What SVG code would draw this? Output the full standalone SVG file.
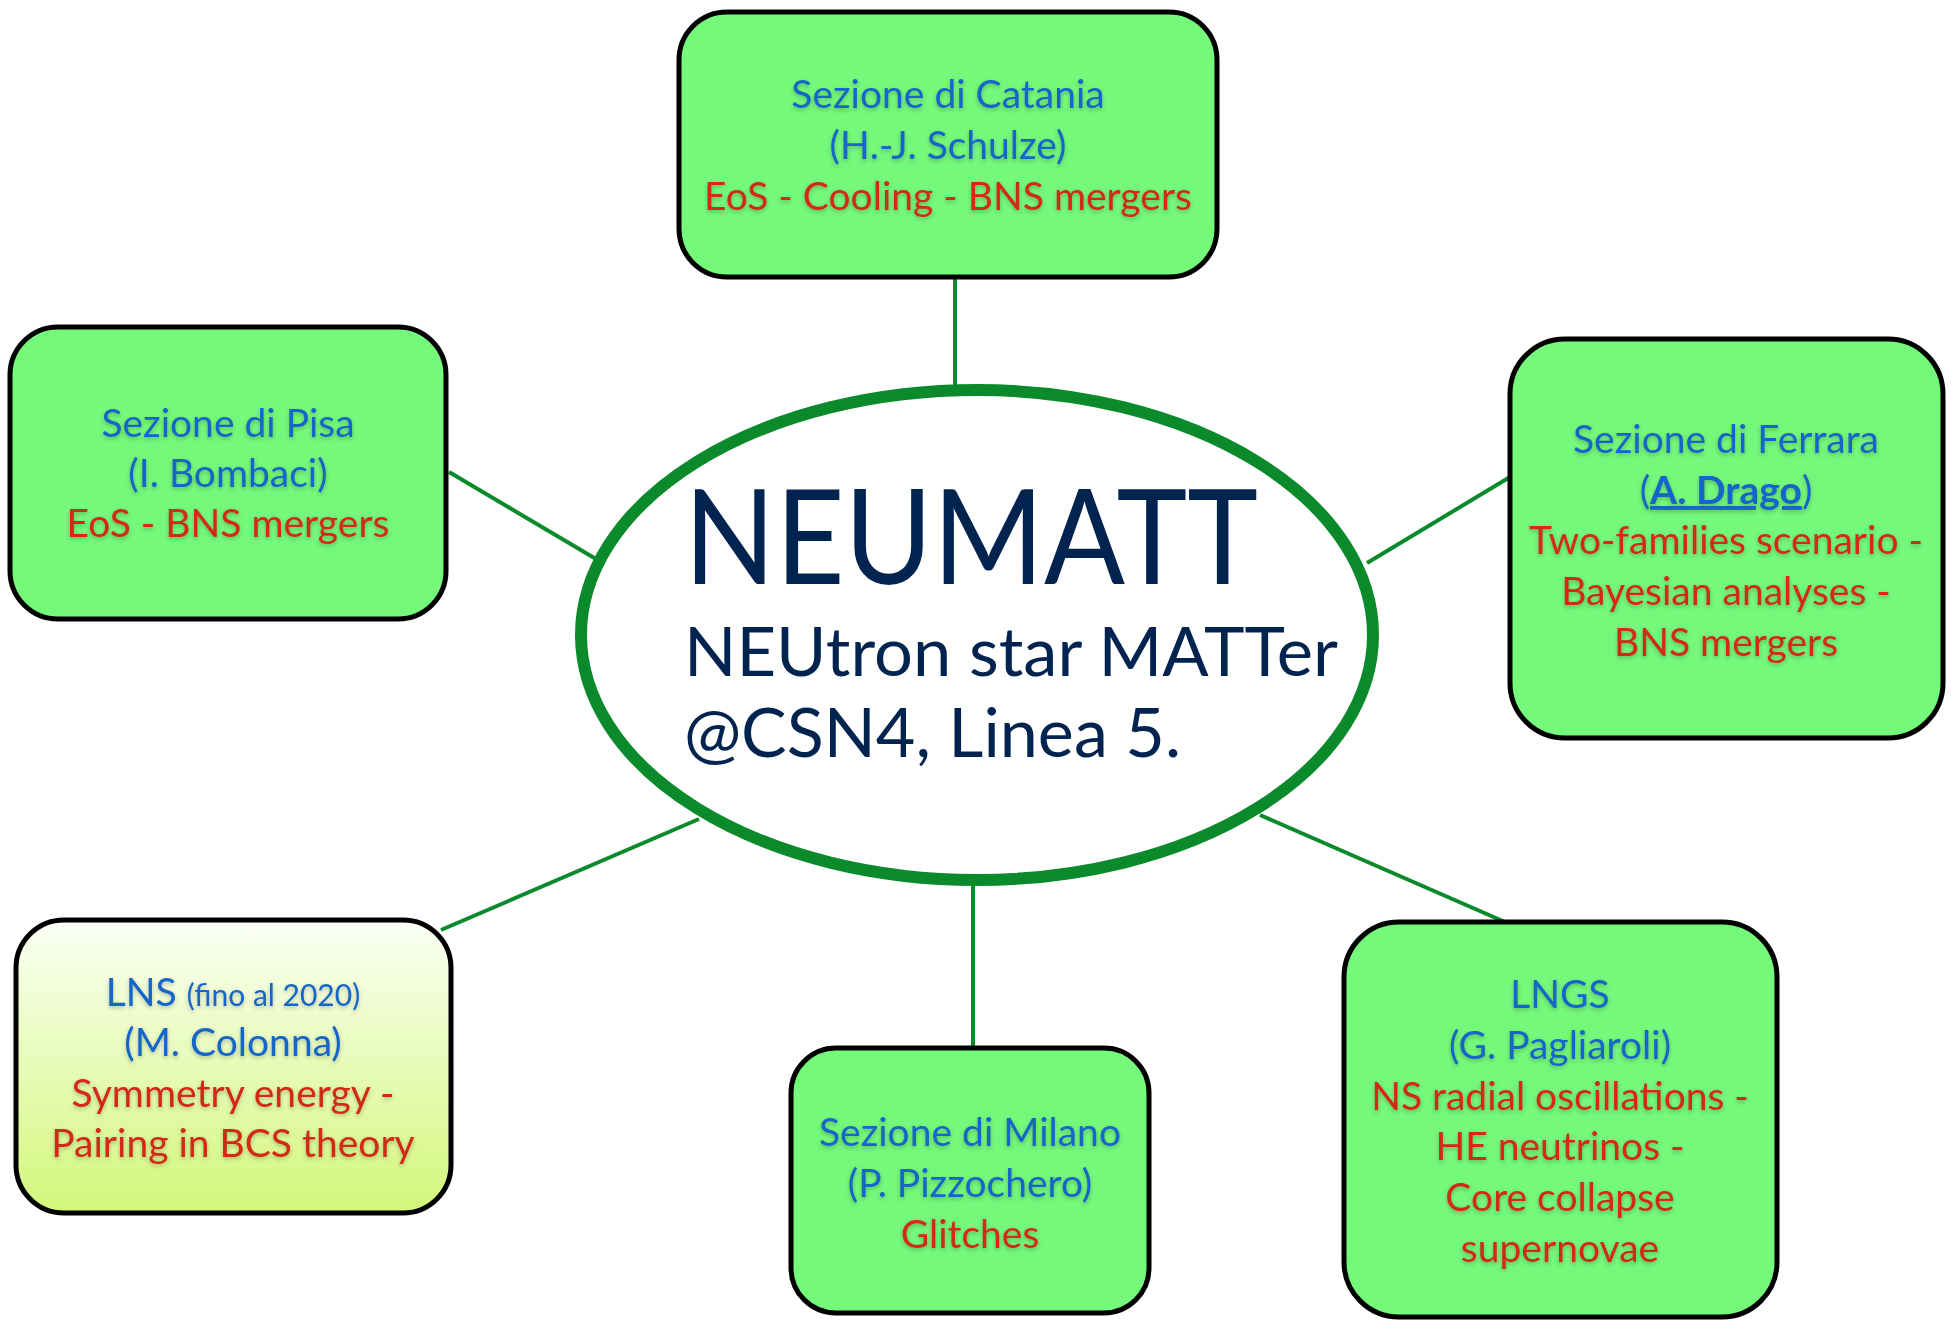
<svg xmlns="http://www.w3.org/2000/svg" width="1957" height="1321" viewBox="0 0 1957 1321">
<defs>
<linearGradient id="lnsGrad" x1="0" y1="0" x2="0" y2="1">
<stop offset="0" stop-color="#fbfff5"/>
<stop offset="1" stop-color="#d3f77a"/>
</linearGradient>
<filter id="ts" x="-10%" y="-30%" width="120%" height="160%">
<feDropShadow dx="0" dy="2" stdDeviation="2" flood-color="#000" flood-opacity="0.25"/>
</filter>
</defs>
<style>
.box{fill:#74f97a;stroke:#000;stroke-width:5}
.lns{fill:url(#lnsGrad);stroke:#000;stroke-width:5}
.conn{stroke:#0b8a2c;stroke-width:4;fill:none}
text{font-family:"Gill Sans","Lato","Liberation Sans",sans-serif;text-anchor:middle;font-size:39px}
.b{fill:#1565c8;filter:url(#ts)}
.r{fill:#d22a12;filter:url(#ts)}
.main{fill:#00234f;text-anchor:start}
.big{font-size:132px}
.mid{font-size:68px}
.small{font-size:30px}
</style>
<rect width="1957" height="1321" fill="#fff"/>
<g id="connectors">
<line class="conn" x1="955" y1="277" x2="955" y2="385"/>
<line class="conn" x1="449" y1="472" x2="596" y2="559"/>
<line class="conn" x1="1367" y1="563" x2="1510" y2="477"/>
<line class="conn" x1="441" y1="930" x2="699" y2="819"/>
<line class="conn" x1="973" y1="886" x2="973" y2="1048"/>
<line class="conn" x1="1260" y1="815" x2="1505" y2="922"/>
</g>
<g id="center">
<ellipse cx="977" cy="635" rx="396" ry="245" fill="#fff" stroke="#0b8a2c" stroke-width="12"/>
<text class="main big" x="684" y="584" textLength="574" lengthAdjust="spacingAndGlyphs">NEUMATT</text>
<text class="main mid" x="684" y="676" textLength="654" lengthAdjust="spacingAndGlyphs">NEUtron star MATTer</text>
<text class="main mid" x="684" y="757" textLength="497" lengthAdjust="spacingAndGlyphs">@CSN4, Linea 5.</text>
</g>
<g id="catania">
<rect class="box" x="679" y="12" width="538" height="265" rx="48"/>
<text class="b" x="948" y="108">Sezione di Catania</text>
<text class="b" x="948" y="159">(H.-J. Schulze)</text>
<text class="r" x="948" y="210">EoS - Cooling - BNS mergers</text>
</g>
<g id="pisa">
<rect class="box" x="10" y="327" width="436" height="292" rx="48"/>
<text class="b" x="228" y="437">Sezione di Pisa</text>
<text class="b" x="228" y="487">(I. Bombaci)</text>
<text class="r" x="228" y="537">EoS - BNS mergers</text>
</g>
<g id="ferrara">
<rect class="box" x="1510" y="339" width="433" height="399" rx="55"/>
<text class="b" x="1726" y="453">Sezione di Ferrara</text>
<text class="b" x="1726" y="504">(<tspan font-weight="bold" text-decoration="underline">A. Drago</tspan>)</text>
<text class="r" x="1726" y="554">Two-families scenario -</text>
<text class="r" x="1726" y="605">Bayesian analyses -</text>
<text class="r" x="1726" y="656">BNS mergers</text>
</g>
<g id="lns">
<rect class="lns" x="16" y="920" width="435" height="293" rx="48"/>
<text class="b" x="233" y="1006">LNS <tspan class="small">(fino al 2020)</tspan></text>
<text class="b" x="233" y="1056">(M. Colonna)</text>
<text class="r" x="233" y="1107">Symmetry energy -</text>
<text class="r" x="233" y="1157">Pairing in BCS theory</text>
</g>
<g id="milano">
<rect class="box" x="791" y="1048" width="358" height="265" rx="45"/>
<text class="b" x="970" y="1146">Sezione di Milano</text>
<text class="b" x="970" y="1197">(P. Pizzochero)</text>
<text class="r" x="970" y="1248">Glitches</text>
</g>
<g id="lngs">
<rect class="box" x="1344" y="922" width="433" height="395" rx="55"/>
<text class="b" x="1560" y="1008">LNGS</text>
<text class="b" x="1560" y="1059">(G. Pagliaroli)</text>
<text class="r" x="1560" y="1110">NS radial oscillations -</text>
<text class="r" x="1560" y="1160">HE neutrinos -</text>
<text class="r" x="1560" y="1211">Core collapse</text>
<text class="r" x="1560" y="1262">supernovae</text>
</g>
</svg>
